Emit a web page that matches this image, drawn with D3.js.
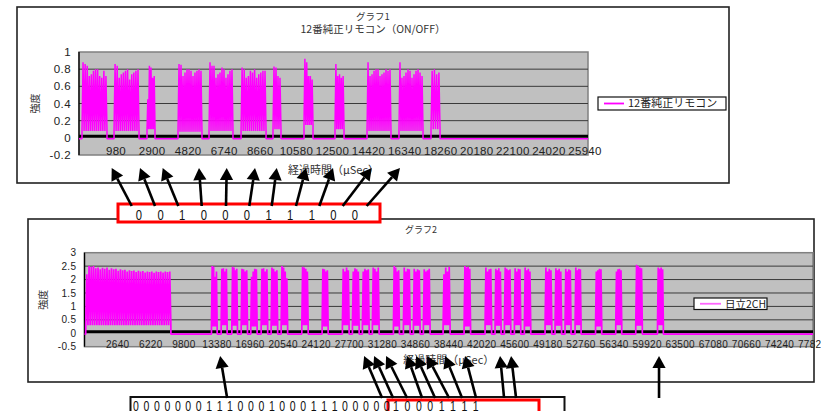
<!DOCTYPE html>
<html>
<head>
<meta charset="utf-8">
<script src="https://cdn.jsdelivr.net/npm/d3@7"></script>
<style>
  body { margin: 0; background: #fff; }
  svg { display: block; }
  text { font-family: "Liberation Sans", Arial, sans-serif; fill: #222; }
  .jp { font-family: "Noto Sans CJK JP", sans-serif; }
</style>
</head>
<body>
<div id="chart"></div>
<script>
// --------------------------------------
//  Data: グラフ1 (12番純正リモコン)
// --------------------------------------
const xTicks1 = [980, 2900, 4820, 6740, 8660, 10580, 12500, 14420, 16340, 18260, 20180, 22100, 24020, 25940];
const yTicks1 = [1, 0.8, 0.6, 0.4, 0.2, 0, -0.2];
// burst start / end (µSec)
const bursts1 = [[-830, 500], [875, 2205], [2630, 3055], [4280, 5555], [5930, 7205], [7635, 8965],
                 [9335, 9760], [10985, 11465], [12635, 13115], [14340, 15615], [16040, 17320], [17745, 18225]];
const peaks1 = [
  [0.88, 0.86, 0.84, 0.72, 0.74, 0.78, 0.80, 0.80, 0.72, 0.70, 0.78, 0.72],
  [0.86, 0.84, 0.70, 0.74, 0.76, 0.78, 0.80, 0.68, 0.74, 0.76, 0.78, 0.80],
  [0.45, 0.84, 0.82, 0.70, 0.72],
  [0.86, 0.85, 0.72, 0.76, 0.80, 0.80, 0.78, 0.72, 0.76, 0.78, 0.80, 0.78],
  [0.88, 0.84, 0.84, 0.70, 0.74, 0.76, 0.82, 0.80, 0.70, 0.74, 0.78, 0.80],
  [0.82, 0.80, 0.70, 0.72, 0.78, 0.76, 0.80, 0.70, 0.74, 0.76, 0.78, 0.78],
  [0.83, 0.82, 0.72, 0.70],
  [0.92, 0.88, 0.72, 0.72, 0.68],
  [0.86, 0.72, 0.74, 0.70, 0.72],
  [0.88, 0.72, 0.74, 0.78, 0.80, 0.80, 0.72, 0.74, 0.76, 0.80, 0.78, 0.80],
  [0.88, 0.70, 0.72, 0.76, 0.80, 0.78, 0.70, 0.74, 0.78, 0.80, 0.76, 0.72],
  [0.78, 0.80, 0.74, 0.76]
];
const troughs1 = [0.08, 0.08, 0.1, 0.07, 0.08, 0.08, 0.1, 0.15, 0.1, 0.08, 0.08, 0.1];
const base1 = -0.01;

const bits1 = "00100011100";
// arrow tail / tip positions on the time axis (µSec)
const arrowTails1 = [1816, 3056, 4296, 5541, 6834, 8074, 9266, 10560, 11800, 13045, 14322];
const arrowTips1  = [751, 2257, 3465, 5397, 6871, 8378, 9533, 11092, 12529, 14588, 16094];

// --------------------------------------
//  Data: グラフ2 (日立2CH)
// --------------------------------------
const xTicks2 = [2640, 6220, 9800, 13380, 16960, 20540, 24120, 27700, 31280, 34860, 38440, 42020, 45600,
                 49180, 52760, 56340, 59920, 63500, 67080, 70660, 74240, 77820];
const yTicks2 = [3, 2.5, 2, 1.5, 1, 0.5, 0, -0.5];
const bursts2 = [[-820, 8395], [12785, 13400], [13835, 14480], [14990, 15595], [16000, 16680], [17045, 17725],
                 [18160, 18865], [19240, 19945], [20325, 21025], [22560, 23245], [24755, 25405], [26950, 27675],
                 [28035, 28760], [29115, 29840], [30195, 30920], [32470, 33115], [33550, 34275], [34630, 35355],
                 [35710, 36435], [37845, 38600], [40115, 40815], [42385, 43090], [43465, 44115], [44475, 45165],
                 [45555, 46245], [46635, 47325], [48875, 49600], [49955, 50660], [51035, 51685], [52120, 52770],
                 [54335, 55005], [56520, 57170], [58685, 59395], [61040, 61670]];
const peaks2 = [
  [2.2, 2.5, 2.48, 2.5, 2.42, 2.45, 2.38, 2.44, 2.4, 2.45, 2.36, 2.42, 2.38, 2.4, 2.33, 2.38, 2.35, 2.36, 2.3, 2.35,
   2.32, 2.34, 2.28, 2.33, 2.3, 2.32, 2.26, 2.3, 2.28, 2.3, 2.25, 2.3, 2.28, 2.3, 2.26, 2.3, 2.28, 2.3],
  [2.5, 2.48, 2.1, 2.3], [2.4, 2.42, 2.3, 2.4], [2.48, 2.45, 2.35, 2.4], [2.4, 2.38, 2.3, 2.35],
  [2.1, 2.3, 2.4, 2.38], [2.4, 2.42, 2.3, 2.38], [2.45, 2.4, 2.3, 2.35], [2.5, 2.45, 2.3, 2.05],
  [2.48, 2.45, 2.4, 2.3], [2.4, 2.38, 2.3, 2.35], [2.4, 2.3, 2.45, 2.35], [2.3, 2.42, 2.38, 2.3],
  [2.3, 2.4, 2.35, 2.38], [2.45, 2.4, 2.3, 2.45], [2.5, 2.45, 2.3, 2.35], [2.45, 2.3, 2.4, 2.38],
  [2.4, 2.3, 2.38, 2.35], [2.38, 2.3, 2.35, 2.4], [2.2, 2.45, 2.3, 2.48], [2.5, 2.45, 2.48, 2.4],
  [2.45, 2.3, 2.38, 2.4], [2.4, 2.35, 2.42, 2.3], [2.45, 2.4, 2.35, 2.38], [2.42, 2.3, 2.4, 2.38],
  [2.45, 2.35, 2.4, 2.3], [2.45, 2.3, 2.4, 2.35], [2.42, 2.35, 2.4, 2.3], [2.4, 2.3, 2.38, 2.35],
  [2.45, 2.35, 2.4, 2.38], [2.3, 2.35, 2.4, 2.38], [2.3, 2.38, 2.4, 2.35], [2.55, 2.5, 2.45, 2.42],
  [2.45, 2.4, 2.45, 2.38]
];
const troughs2 = [0.3, 0.25, 0.3, 0.28, 0.3, 0.25, 0.3, 0.28, 0.3, 0.3, 0.25, 0.3, 0.28, 0.3, 0.3, 0.25, 0.3,
                  0.28, 0.3, 0.3, 0.25, 0.3, 0.28, 0.3, 0.3, 0.25, 0.3, 0.28, 0.3, 0.3, 0.25, 0.3, 0.28, 0.3];
const base2 = -0.03;

const bits2a = "0000000111000100011100000";
const bits2b = "10001111";
const arrowTails2 = [14482, 31246, 32436, 33950, 35573, 36979, 38493, 39899, 41413, 44441, 45739, 61203];
const arrowTips2  = [13725, 29299, 30381, 31678, 33950, 34923, 36113, 38059, 40222, 44007, 45197, 61203];

// --------------------------------------
//  Canvas
// --------------------------------------
const width = 821, height = 411;
const svg = d3.select("#chart").append("svg")
  .attr("width", width).attr("height", height)
  .attr("viewBox", `0 0 ${width} ${height}`);

// build the trace: baseline, then each burst as a zigzag of peaks and troughs
function trace(domain, bursts, peaks, troughs, base) {
  const pts = [{t: domain[0], v: base}];
  bursts.forEach((b, i) => {
    const n = peaks[i].length;
    const s = d3.scalePoint().domain(d3.range(n * 2 + 1)).range(b);
    pts.push({t: b[0], v: base});
    d3.range(n * 2 + 1).forEach(k => {
      pts.push({t: s(k), v: k % 2 ? peaks[i][(k - 1) / 2] : troughs[i]});
    });
    pts.push({t: b[1], v: base});
  });
  pts.push({t: domain[1], v: base});
  return pts;
}

function arrow(g, x1, y1, x2, y2, head) {
  const a = Math.atan2(y2 - y1, x2 - x1);
  const bx = x2 - head * Math.cos(a), by = y2 - head * Math.sin(a);
  const w = head * 0.55;
  g.append("line")
    .attr("x1", x1).attr("y1", y1).attr("x2", bx).attr("y2", by)
    .attr("stroke", "#000").attr("stroke-width", 2.6);
  g.append("path")
    .attr("d", `M${x2},${y2}L${bx + w * Math.sin(a)},${by - w * Math.cos(a)}L${bx - w * Math.sin(a)},${by + w * Math.cos(a)}Z`)
    .attr("fill", "#000");
}

function drawChart(cfg) {
  const g = svg.append("g");

  // outer frame
  g.append("rect")
    .attr("x", cfg.frame[0]).attr("y", cfg.frame[1])
    .attr("width", cfg.frame[2] - cfg.frame[0]).attr("height", cfg.frame[3] - cfg.frame[1])
    .attr("fill", "#fff").attr("stroke", "#222").attr("stroke-width", 1.6);

  const p = cfg.plot;
  const x = d3.scaleLinear().domain(cfg.xDomain).range([p.l, p.r]);
  const y = d3.scaleLinear().domain(cfg.yDomain).range([p.b, p.t]);

  // plot area
  g.append("rect")
    .attr("x", p.l).attr("y", p.t).attr("width", p.r - p.l).attr("height", p.b - p.t)
    .attr("fill", "#c0c0c0").attr("stroke", "#808080").attr("stroke-width", 1.5);

  // gridlines
  g.append("g")
    .selectAll("line")
    .data(cfg.yTicks.filter(v => v > cfg.yDomain[0] && v < cfg.yDomain[1] && v !== 0))
    .join("line")
      .attr("x1", p.l).attr("x2", p.r)
      .attr("y1", d => y(d)).attr("y2", d => y(d))
      .attr("stroke", "#3a3a3a").attr("stroke-width", 1);

  // thick zero axis
  g.append("line")
    .attr("x1", p.l).attr("x2", p.r)
    .attr("y1", y(0) - 1.5).attr("y2", y(0) - 1.5)
    .attr("stroke", "#000").attr("stroke-width", 3);

  // y axis line
  g.append("line")
    .attr("x1", p.l).attr("x2", p.l).attr("y1", p.t).attr("y2", p.b)
    .attr("stroke", "#000").attr("stroke-width", 1.3);

  // data trace
  const line = d3.line().x(d => x(d.t)).y(d => y(d.v));
  g.append("path")
    .attr("d", line(trace(cfg.xDomain, cfg.bursts, cfg.peaks, cfg.troughs, cfg.base)))
    .attr("fill", "none").attr("stroke", "#ff00ff").attr("stroke-width", cfg.lw)
    .attr("stroke-linejoin", "bevel");

  // y tick labels
  g.append("g")
    .selectAll("text")
    .data(cfg.yTicks)
    .join("text")
      .attr("x", p.l - 8).attr("y", d => y(d))
      .attr("dy", "0.36em")
      .attr("text-anchor", "end")
      .style("font-size", cfg.fs + "px")
      .style("letter-spacing", "0.4px")
      .text(d => d);

  // x tick labels
  g.append("g")
    .selectAll("text")
    .data(cfg.xTicks)
    .join("text")
      .attr("x", d => x(d)).attr("y", cfg.xLabelY)
      .attr("text-anchor", "middle")
      .style("font-size", cfg.fs + "px")
      .style("letter-spacing", "0.3px")
      .text(d => d);

  // titles
  cfg.titles.forEach(t => {
    g.append("text").attr("class", "jp")
      .attr("x", (cfg.frame[0] + cfg.frame[2]) / 2).attr("y", t.y)
      .attr("text-anchor", "middle")
      .style("font-size", t.fs + "px").style("fill", "#333")
      .text(t.text);
  });

  g.append("text").attr("class", "jp")
    .attr("x", (p.l + p.r) / 2).attr("y", cfg.xTitleY)
    .attr("text-anchor", "middle")
    .style("font-size", "11px").style("fill", "#333")
    .text("経過時間（μSec）");

  g.append("text").attr("class", "jp")
    .attr("transform", `translate(${cfg.yTitleX}, ${(p.t + p.b) / 2}) rotate(-90)`)
    .attr("text-anchor", "middle").attr("dy", "0.35em")
    .style("font-size", "10px").style("fill", "#333")
    .text("強度");

  // legend
  const L = cfg.legend;
  g.append("rect")
    .attr("x", L.x).attr("y", L.y).attr("width", L.w).attr("height", L.h)
    .attr("fill", "#fff").attr("stroke", "#111").attr("stroke-width", 1.2);
  g.append("line")
    .attr("x1", L.x + 6).attr("x2", L.x + 6 + L.lineW)
    .attr("y1", L.y + L.h / 2).attr("y2", L.y + L.h / 2)
    .attr("stroke", L.color).attr("stroke-width", 1.8);
  g.append("text").attr("class", "jp")
    .attr("x", L.x + 10 + L.lineW).attr("y", L.y + L.h / 2).attr("dy", "0.36em")
    .style("font-size", L.fs + "px")
    .text(L.text);

  return x;
}

// --------------------------------------
//  Chart 1
// --------------------------------------
const x1 = drawChart({
  frame: [17, 7, 729, 183],
  plot: {l: 79, t: 52, r: 588, b: 155},
  xDomain: [-990, 26100], yDomain: [-0.2, 1],
  xTicks: xTicks1, yTicks: yTicks1,
  bursts: bursts1, peaks: peaks1, troughs: troughs1, base: base1,
  lw: 1.5, fs: 11.5, xLabelY: 155,
  titles: [{text: "グラフ1", y: 19.5, fs: 9.5}, {text: "12番純正リモコン（ON/OFF）", y: 33, fs: 10.5}],
  xTitleY: 174, yTitleX: 35,
  legend: {x: 598, y: 97, w: 128, h: 13, lineW: 20, color: "#ff00ff", fs: 11, text: "12番純正リモコン"}
});

// --------------------------------------
//  Chart 2
// --------------------------------------
const x2 = drawChart({
  frame: [28, 219, 814, 382],
  plot: {l: 84.5, t: 252.7, r: 813, b: 346.7},
  xDomain: [-950, 77860], yDomain: [-0.5, 3],
  xTicks: xTicks2, yTicks: yTicks2,
  bursts: bursts2, peaks: peaks2, troughs: troughs2, base: base2,
  lw: 1.7, fs: 10, xLabelY: 348,
  titles: [{text: "グラフ2", y: 233, fs: 9}],
  xTitleY: 364, yTitleX: 43,
  legend: {x: 694, y: 298, w: 73, h: 11.5, lineW: 21, color: "#ff66ff", fs: 10.5, text: "日立2CH"}
});

// --------------------------------------
//  Annotations: bit boxes and arrows
// --------------------------------------
const ann = svg.append("g");

// chart 1 bits
ann.append("rect")
  .attr("x", 118).attr("y", 204).attr("width", 262).attr("height", 18)
  .attr("fill", "#fff").attr("stroke", "#ff0000").attr("stroke-width", 3);
ann.append("g").selectAll("text")
  .data(bits1.split(""))
  .join("text")
    .attr("x", (d, i) => 139 + i * 21.6).attr("y", 220)
    .attr("text-anchor", "middle")
    .attr("transform", (d, i) => `translate(${(139 + i * 21.6) * 0.25}, 0) scale(0.75, 1)`)
    .style("font-size", "15px").style("fill", "#111")
    .text(d => d);

arrowTails1.forEach((t, i) => arrow(ann, x1(t), 206, x1(arrowTips1[i]), 168, 12));

// chart 2 bits
ann.append("rect")
  .attr("x", 130.5).attr("y", 397).attr("width", 434).attr("height", 25)
  .attr("fill", "#fff").attr("stroke", "#111").attr("stroke-width", 2);
ann.append("rect")
  .attr("x", 388).attr("y", 400).attr("width", 151).attr("height", 22)
  .attr("fill", "#fff").attr("stroke", "#ff0000").attr("stroke-width", 3);
ann.append("g").selectAll("text")
  .data(bits2a.split(""))
  .join("text")
    .attr("x", (d, i) => 136 + i * 10.45).attr("y", 411)
    .attr("text-anchor", "middle")
    .attr("transform", (d, i) => `translate(${(136 + i * 10.45) * 0.3}, 0) scale(0.7, 1)`)
    .style("font-size", "15px").style("fill", "#111")
    .text(d => d);
ann.append("g").selectAll("text")
  .data(bits2b.split(""))
  .join("text")
    .attr("x", (d, i) => 396 + i * 11.4).attr("y", 411)
    .attr("text-anchor", "middle")
    .attr("transform", (d, i) => `translate(${(396 + i * 11.4) * 0.3}, 0) scale(0.7, 1)`)
    .style("font-size", "15px").style("fill", "#111")
    .text(d => d);

arrowTails2.forEach((t, i) => arrow(ann, x2(t), 398, x2(arrowTips2[i]), 356, 12));
</script>
</body>
</html>
